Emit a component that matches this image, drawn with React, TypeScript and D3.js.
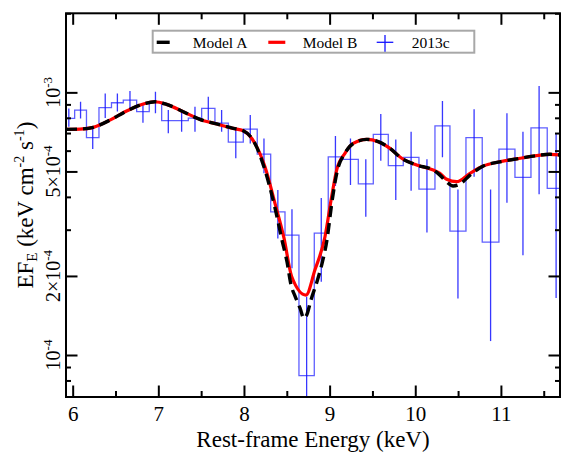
import React, { useEffect, useRef } from 'react';
import * as d3 from 'd3';

// 2013c spectrum, flux values in units of 1e-4 keV cm^-2 s^-1
const binEdges = [5.887, 6.023, 6.161, 6.307, 6.453, 6.591, 6.747, 6.894, 7.039, 7.194, 7.350, 7.506,
  7.661, 7.817, 7.992, 8.155, 8.312, 8.479, 8.642, 8.821, 8.984, 9.152, 9.335, 9.510, 9.685, 9.860,
  10.043, 10.230, 10.405, 10.592, 10.782, 10.977, 11.164, 11.351, 11.541, 11.748];
const dataFlux = [7.96, 8.56, 6.73, 8.75, 9.13, 9.35, 8.44, 9.16, 7.80, 7.80, 7.98, 8.69, 7.64, 6.47,
  7.25, 5.82, 3.51, 2.86, 0.834, 2.91, 5.68, 5.56, 4.48, 6.92, 5.26, 5.66, 4.28, 7.46, 2.96, 6.72,
  2.69, 6.08, 4.75, 7.33, 4.31];
const dataHigh = [8.69, 9.21, 7.25, 9.90, 9.91, 10.11, 9.08, 10.05, 8.56, 8.44, 8.81, 9.62, 8.56, 7.38,
  8.20, 6.68, 4.25, 3.59, 1.667, 3.96, 6.82, 6.68, 5.56, 8.27, 6.62, 7.08, 5.56, 9.27, 4.27, 8.62,
  4.27, 8.32, 7.08, 10.57, 6.98];
const dataLow = [7.40, 7.96, 6.08, 7.98, 8.45, 8.69, 7.66, 8.32, 6.98, 7.08, 7.08, 7.84, 7.08, 5.61,
  6.39, 4.92, 2.78, 2.14, 0.4, 1.90, 4.40, 4.44, 3.36, 5.49, 3.89, 4.22, 2.93, 5.66, 1.64, 4.77,
  1.13, 3.80, 2.40, 4.09, 1.65];

// model curves (same units)
const modelAEnergy = [5.922, 6.085, 6.241, 6.435, 6.630, 6.824, 6.961, 7.097, 7.291, 7.486, 7.681,
  7.875, 7.992, 8.128, 8.245, 8.362, 8.444, 8.503, 8.549, 8.595, 8.654, 8.700, 8.736, 8.782, 8.852,
  8.910, 8.969, 9.027, 9.086, 9.179, 9.276, 9.433, 9.568, 9.705, 9.841, 10.016, 10.210, 10.288,
  10.367, 10.441, 10.523, 10.639, 10.794, 10.989, 11.184, 11.378, 11.573, 11.709];
const modelAFlux = [7.23, 7.25, 7.36, 7.84, 8.49, 9.03, 9.21, 9.00, 8.44, 7.89, 7.58, 7.29, 7.14,
  6.39, 5.06, 3.63, 2.74, 2.26, 1.85, 1.68, 1.51, 1.38, 1.43, 1.62, 1.90, 2.22, 2.74, 3.82, 4.97,
  5.86, 6.39, 6.62, 6.49, 6.12, 5.61, 5.29, 5.06, 4.84, 4.56, 4.40, 4.48, 4.84, 5.24, 5.44, 5.58,
  5.72, 5.81, 5.77];
const modelBEnergy = [5.922, 6.085, 6.241, 6.435, 6.630, 6.824, 6.961, 7.097, 7.291, 7.486, 7.681,
  7.875, 7.992, 8.128, 8.245, 8.362, 8.467, 8.557, 8.724, 8.829, 8.946, 9.024, 9.082, 9.179, 9.276,
  9.433, 9.568, 9.705, 9.841, 10.016, 10.210, 10.288, 10.367, 10.483, 10.639, 10.794, 10.989, 11.184,
  11.378, 11.573, 11.709];
const modelBFlux = [7.23, 7.25, 7.36, 7.84, 8.49, 9.03, 9.21, 9.00, 8.44, 7.89, 7.58, 7.29, 7.14,
  6.39, 5.21, 3.78, 2.79, 1.99, 1.69, 2.11, 2.82, 4.01, 5.06, 5.86, 6.39, 6.62, 6.49, 6.12, 5.61,
  5.29, 5.06, 4.92, 4.67, 4.57, 4.92, 5.24, 5.44, 5.58, 5.72, 5.81, 5.77];

const xTickValues = [6, 7, 8, 9, 10, 11];
const xMinorTicks = [6.5, 7.5, 8.5, 9.5, 10.5, 11.5];
const yTickValues = [1, 2, 5, 10];
const yTickMantissa = ['', '2×', '5×', ''];
const yTickExponent = ['-4', '-4', '-4', '-3'];
const yMinorTicks = [0.8, 0.9, 3, 4, 6, 7, 8, 9, 20];
const legendLabels = ['Model A', 'Model B', '2013c'];

const App = () => {
  const ref = useRef<SVGSVGElement>(null);

  useEffect(() => {
    drawChart();
    return () => {
      d3.select(ref.current).selectAll('*').remove();
    };
  }, []);

  const drawChart = () => {
    const plot = { left: 66, right: 560, top: 13.3, bottom: 397 };
    const font = '"Liberation Serif", "Times New Roman", Times, serif';
    const majorLen = 11.5;
    const minorLen = 6;

    const svg = d3.select(ref.current);

    const x = d3.scaleLinear().domain([5.922, 11.69]).range([plot.left, plot.right]);
    const y = d3.scaleLog().domain([0.692, 20]).range([plot.bottom, plot.top]);

    svg.append('defs').append('clipPath').attr('id', 'plotClip')
      .append('rect')
      .attr('x', plot.left).attr('y', plot.top)
      .attr('width', plot.right - plot.left).attr('height', plot.bottom - plot.top);

    const g = svg.append('g').attr('clip-path', 'url(#plotClip)');

    // data histogram (step line)
    const stepPts: [number, number][] = [];
    dataFlux.forEach((f, i) => {
      stepPts.push([binEdges[i], f]);
      stepPts.push([binEdges[i + 1], f]);
    });
    const line = d3.line<[number, number]>().x(d => x(d[0])).y(d => y(d[1]));
    g.append('path')
      .attr('d', line(stepPts))
      .attr('fill', 'none')
      .attr('stroke', '#2a2aff')
      .attr('stroke-opacity', 0.75)
      .attr('stroke-width', 1.3);

    // error bars at bin centres
    g.selectAll('.err')
      .data(dataFlux)
      .enter().append('line')
      .attr('class', 'err')
      .attr('x1', (d, i) => x((binEdges[i] + binEdges[i + 1]) / 2))
      .attr('x2', (d, i) => x((binEdges[i] + binEdges[i + 1]) / 2))
      .attr('y1', (d, i) => y(dataHigh[i]))
      .attr('y2', (d, i) => y(dataLow[i]))
      .attr('stroke', '#1414ff')
      .attr('stroke-opacity', 0.85)
      .attr('stroke-width', 1.3);

    // models: B (red solid) under A (black dashed)
    const curve = d3.line<number>()
      .x(d => x(d))
      .curve(d3.curveMonotoneX);

    g.append('path')
      .attr('d', curve.y((d, i) => y(modelBFlux[i]))(modelBEnergy))
      .attr('fill', 'none')
      .attr('stroke', '#ff0000')
      .attr('stroke-width', 3.2);

    g.append('path')
      .attr('d', curve.y((d, i) => y(modelAFlux[i]))(modelAEnergy))
      .attr('fill', 'none')
      .attr('stroke', '#000')
      .attr('stroke-width', 3.4)
      .attr('stroke-dasharray', '11,6');

    // axes (ticks pointing inward)
    const styleAxis = (sel: any) => {
      sel.select('.domain').remove();
      sel.selectAll('line').attr('stroke', '#000').attr('stroke-width', 2);
      sel.selectAll('text').attr('font-family', font).attr('fill', '#000');
    };

    svg.append('g')
      .attr('transform', `translate(0,${plot.bottom})`)
      .call(d3.axisBottom(x).tickValues(xTickValues).tickSize(-majorLen).tickSizeOuter(0).tickPadding(9).tickFormat(d3.format('d')))
      .call(styleAxis)
      .selectAll('text').attr('font-size', 21);
    svg.append('g')
      .attr('transform', `translate(0,${plot.bottom})`)
      .call(d3.axisBottom(x).tickValues(xMinorTicks).tickSize(-minorLen).tickSizeOuter(0).tickFormat(() => ''))
      .call(styleAxis);
    svg.append('g')
      .attr('transform', `translate(0,${plot.top})`)
      .call(d3.axisTop(x).tickValues(xTickValues).tickSize(-majorLen).tickSizeOuter(0).tickFormat(() => ''))
      .call(styleAxis);
    svg.append('g')
      .attr('transform', `translate(0,${plot.top})`)
      .call(d3.axisTop(x).tickValues(xMinorTicks).tickSize(-minorLen).tickSizeOuter(0).tickFormat(() => ''))
      .call(styleAxis);

    svg.append('g')
      .attr('transform', `translate(${plot.left},0)`)
      .call(d3.axisLeft(y).tickValues(yTickValues).tickSize(-majorLen).tickSizeOuter(0).tickFormat(() => ''))
      .call(styleAxis);
    svg.append('g')
      .attr('transform', `translate(${plot.left},0)`)
      .call(d3.axisLeft(y).tickValues(yMinorTicks).tickSize(-minorLen + 1).tickSizeOuter(0).tickFormat(() => ''))
      .call(styleAxis);
    svg.append('g')
      .attr('transform', `translate(${plot.right},0)`)
      .call(d3.axisRight(y).tickValues(yTickValues).tickSize(-majorLen).tickSizeOuter(0).tickFormat(() => ''))
      .call(styleAxis);
    svg.append('g')
      .attr('transform', `translate(${plot.right},0)`)
      .call(d3.axisRight(y).tickValues(yMinorTicks).tickSize(-minorLen + 1).tickSizeOuter(0).tickFormat(() => ''))
      .call(styleAxis);

    // y tick labels, rotated with superscript exponents
    yTickValues.forEach((v, i) => {
      const t = svg.append('text')
        .attr('transform', `translate(60,${y(v)}) rotate(-90)`)
        .attr('text-anchor', 'middle')
        .attr('font-family', font)
        .attr('font-size', 20)
        .attr('fill', '#000');
      t.append('tspan').text(yTickMantissa[i] + '10');
      t.append('tspan').attr('font-size', 13).attr('dy', -8).text(yTickExponent[i]);
    });

    // frame
    svg.append('rect')
      .attr('x', plot.left).attr('y', plot.top)
      .attr('width', plot.right - plot.left).attr('height', plot.bottom - plot.top)
      .attr('fill', 'none')
      .attr('stroke', '#000')
      .attr('stroke-width', 2);

    // axis titles
    svg.append('text')
      .attr('x', (plot.left + plot.right) / 2)
      .attr('y', 446.5)
      .attr('text-anchor', 'middle')
      .attr('font-family', font)
      .attr('font-size', 23)
      .text('Rest-frame Energy (keV)');

    const yt = svg.append('text')
      .attr('transform', `translate(33,${(plot.top + plot.bottom) / 2}) rotate(-90)`)
      .attr('text-anchor', 'middle')
      .attr('font-family', font)
      .attr('font-size', 23);
    yt.append('tspan').text('EF');
    yt.append('tspan').attr('font-size', 15).attr('dy', 4).text('E');
    yt.append('tspan').attr('dy', -4).text(' (keV cm');
    yt.append('tspan').attr('font-size', 14).attr('dy', -9).text('-2');
    yt.append('tspan').attr('dy', 9).text(' s');
    yt.append('tspan').attr('font-size', 14).attr('dy', -9).text('-1');
    yt.append('tspan').attr('dy', 9).text(')');

    // legend
    const legend = svg.append('g');
    legend.append('rect')
      .attr('x', 152.7).attr('y', 30.7)
      .attr('width', 321.6).attr('height', 22)
      .attr('fill', '#fff')
      .attr('stroke', '#a8a8a8')
      .attr('stroke-width', 2);
    const ly = 42.3;
    legend.append('line')
      .attr('x1', 156.7).attr('x2', 173.7).attr('y1', ly).attr('y2', ly)
      .attr('stroke', '#000').attr('stroke-width', 3.4).attr('stroke-dasharray', '13,6');
    legend.append('line')
      .attr('x1', 268.3).attr('x2', 285.3).attr('y1', ly).attr('y2', ly)
      .attr('stroke', '#ff0000').attr('stroke-width', 3.2);
    legend.append('line')
      .attr('x1', 376.7).attr('x2', 393.3).attr('y1', ly).attr('y2', ly)
      .attr('stroke', '#1414ff').attr('stroke-width', 1.3);
    legend.append('line')
      .attr('x1', 385).attr('x2', 385).attr('y1', 35).attr('y2', 51.7)
      .attr('stroke', '#1414ff').attr('stroke-width', 1.3);
    const labelX = [192.7, 302.7, 411.7];
    legendLabels.forEach((lab, i) => {
      legend.append('text')
        .attr('x', labelX[i]).attr('y', 47.5)
        .attr('font-family', font)
        .attr('font-size', 15.5)
        .text(lab);
    });
  };

  return (
    <svg
      ref={ref}
      width={563}
      height={452}
      style={{ position: 'absolute', left: 0, top: 0, background: '#fff' }}
    />
  );
};

export default App;
